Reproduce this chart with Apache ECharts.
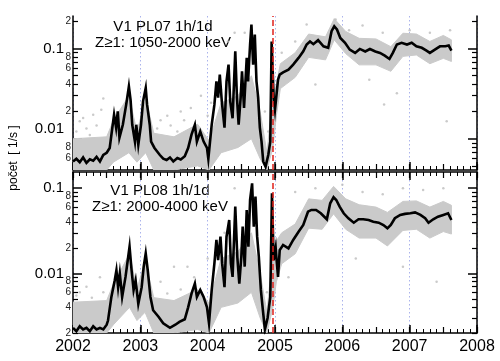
<!DOCTYPE html>
<html><head><meta charset="utf-8">
<script src="https://cdn.jsdelivr.net/npm/echarts@6/dist/echarts.min.js"></script>
<style>html,body{margin:0;padding:0;background:#fff}#c{width:500px;height:361px}</style>
</head><body><div id="c"></div>
<script>
// ---------- data ----------
const crossingT = 2004.96; // red dashed line
const yearTicks = [2002, 2003, 2004, 2005, 2006, 2007, 2008];

const topMajor = [0.01, 0.1];
const topMinor = [0.005,0.006,0.007,0.008,0.009,0.02,0.03,0.04,0.05,0.06,0.07,0.08,0.09,0.2];
const topMinorLabels = [0.006,0.008,0.02,0.04,0.06,0.08,0.2];
const botMajor = [0.01, 0.1];
const botMinor = [0.002,0.003,0.004,0.005,0.006,0.007,0.008,0.009,0.02,0.03,0.04,0.05,0.06,0.07,0.08,0.09];
const botMinorLabels = [0.002,0.004,0.006,0.008,0.02,0.04,0.06,0.08];
const topRange = [0.0045, 0.23];
const botRange = [0.002, 0.155];

// daily averages, PL07
const topDaily = [[2002.00,0.0056],[2002.05,0.0060],[2002.10,0.0055],[2002.15,0.0062],[2002.20,0.0054],[2002.25,0.0059],[2002.30,0.0057],[2002.35,0.0063],[2002.40,0.0056],[2002.45,0.0066],[2002.50,0.0070],[2002.545,0.0079],[2002.59,0.0143],[2002.61,0.0185],[2002.64,0.0133],[2002.665,0.0201],[2002.69,0.0103],[2002.74,0.0143],[2002.79,0.0239],[2002.83,0.0381],[2002.855,0.027],[2002.88,0.0143],[2002.92,0.0093],[2002.94,0.0143],[2002.97,0.0086],[2003.01,0.0143],[2003.04,0.026],[2003.08,0.0366],[2003.10,0.024],[2003.14,0.0143],[2003.16,0.0093],[2003.21,0.0079],[2003.29,0.0066],[2003.34,0.0060],[2003.39,0.0058],[2003.44,0.0062],[2003.49,0.0056],[2003.55,0.0061],[2003.60,0.0059],[2003.66,0.0064],[2003.71,0.0079],[2003.76,0.0111],[2003.81,0.0143],[2003.84,0.0093],[2003.89,0.0120],[2003.94,0.0093],[2003.99,0.0079],[2004.01,0.0060],[2004.06,0.0143],[2004.10,0.0239],[2004.13,0.0433],[2004.155,0.0286],[2004.18,0.0514],[2004.21,0.026],[2004.25,0.0133],[2004.28,0.0433],[2004.31,0.0664],[2004.335,0.026],[2004.37,0.0169],[2004.41,0.0934],[2004.435,0.0286],[2004.46,0.0143],[2004.49,0.0286],[2004.51,0.056],[2004.54,0.022],[2004.58,0.0788],[2004.60,0.0433],[2004.63,0.111],[2004.65,0.185],[2004.675,0.0664],[2004.70,0.143],[2004.725,0.0433],[2004.75,0.0286],[2004.775,0.0133],[2004.80,0.0093],[2004.825,0.0056],[2004.86,0.0049],[2004.90,0.0066],[2004.93,0.0093],[2004.95,0.12],[2004.98,0.0286],[2005.00,0.021],[2005.025,0.0322],[2005.045,0.0452],[2005.07,0.0514],[2005.12,0.0545],[2005.20,0.0584],[2005.27,0.0664],[2005.35,0.0788],[2005.42,0.0934],[2005.47,0.111],[2005.52,0.12],[2005.57,0.112],[2005.64,0.124],[2005.72,0.106],[2005.79,0.102],[2005.84,0.156],[2005.88,0.177],[2005.92,0.163],[2005.97,0.131],[2006.04,0.116],[2006.11,0.0974],[2006.19,0.0896],[2006.26,0.0992],[2006.34,0.093],[2006.41,0.099],[2006.49,0.093],[2006.56,0.0896],[2006.63,0.0836],[2006.70,0.0768],[2006.75,0.0896],[2006.81,0.111],[2006.88,0.116],[2006.96,0.111],[2007.03,0.116],[2007.10,0.106],[2007.18,0.102],[2007.25,0.095],[2007.30,0.0896],[2007.38,0.098],[2007.45,0.106],[2007.53,0.106],[2007.58,0.108],[2007.62,0.095]];

// daily averages, PL08
const botDaily = [[2002.00,0.0023],[2002.05,0.0021],[2002.10,0.0024],[2002.15,0.0022],[2002.20,0.0023],[2002.25,0.0021],[2002.30,0.0024],[2002.35,0.0022],[2002.40,0.0023],[2002.45,0.0022],[2002.50,0.0025],[2002.52,0.0028],[2002.57,0.0053],[2002.62,0.0083],[2002.645,0.0109],[2002.67,0.0069],[2002.695,0.010],[2002.73,0.0053],[2002.78,0.0091],[2002.82,0.0157],[2002.84,0.0206],[2002.87,0.0109],[2002.90,0.0064],[2002.93,0.0083],[2002.97,0.0044],[2003.02,0.0069],[2003.05,0.012],[2003.08,0.0172],[2003.11,0.0109],[2003.15,0.0053],[2003.19,0.0037],[2003.27,0.0031],[2003.34,0.0026],[2003.44,0.0023],[2003.52,0.0025],[2003.58,0.0027],[2003.66,0.0029],[2003.71,0.0040],[2003.76,0.0058],[2003.81,0.0076],[2003.84,0.0053],[2003.89,0.0064],[2003.94,0.0053],[2003.99,0.0040],[2004.02,0.0026],[2004.06,0.0064],[2004.10,0.0131],[2004.13,0.0247],[2004.155,0.0143],[2004.19,0.027],[2004.215,0.0131],[2004.25,0.0069],[2004.28,0.027],[2004.32,0.0424],[2004.345,0.0131],[2004.37,0.0091],[2004.41,0.0608],[2004.44,0.0157],[2004.47,0.0076],[2004.50,0.0157],[2004.52,0.0354],[2004.55,0.012],[2004.58,0.0556],[2004.605,0.0206],[2004.63,0.0728],[2004.66,0.114],[2004.685,0.0354],[2004.71,0.0797],[2004.735,0.027],[2004.76,0.0157],[2004.79,0.0064],[2004.82,0.0037],[2004.85,0.0022],[2004.89,0.0030],[2004.93,0.0053],[2004.955,0.087],[2004.98,0.0143],[2005.01,0.020],[2005.02,0.0157],[2005.045,0.0091],[2005.07,0.0188],[2005.12,0.0216],[2005.20,0.0197],[2005.27,0.0247],[2005.35,0.0309],[2005.42,0.037],[2005.49,0.053],[2005.54,0.0556],[2005.61,0.0556],[2005.68,0.0508],[2005.77,0.0432],[2005.82,0.0666],[2005.87,0.0784],[2005.91,0.0728],[2005.96,0.0608],[2006.02,0.0508],[2006.09,0.0444],[2006.17,0.0394],[2006.24,0.0432],[2006.31,0.0432],[2006.39,0.0424],[2006.46,0.0405],[2006.54,0.0394],[2006.61,0.037],[2006.67,0.0338],[2006.72,0.037],[2006.78,0.0444],[2006.86,0.0486],[2006.93,0.050],[2007.01,0.0508],[2007.08,0.052],[2007.16,0.0486],[2007.23,0.0444],[2007.28,0.0394],[2007.35,0.0432],[2007.42,0.0463],[2007.50,0.0486],[2007.57,0.0508],[2007.62,0.0424]];

// hourly spread (grey cloud): [t, low, high]
const topBand = [[2002.00,0.0045,0.0100],[2002.50,0.0045,0.0105],[2002.60,0.0055,0.0160],[2002.83,0.0070,0.0300],[2002.95,0.0055,0.0120],[2003.08,0.0070,0.0280],[2003.20,0.0045,0.0115],[2003.50,0.0045,0.0105],[2003.85,0.0050,0.0145],[2004.02,0.0045,0.0095],[2004.20,0.0070,0.0250],[2004.45,0.0080,0.0300],[2004.65,0.0100,0.0500],[2004.78,0.0060,0.0200],[2004.88,0.0045,0.0070],[2004.97,0.0080,0.0300],[2005.02,0.0180,0.0400],[2005.08,0.0360,0.0680],[2005.30,0.0480,0.0900],[2005.50,0.0800,0.1450],[2005.75,0.0750,0.1350],[2005.88,0.1250,0.2150],[2006.05,0.0880,0.1550],[2006.25,0.0660,0.1300],[2006.50,0.0660,0.1280],[2006.72,0.0560,0.1050],[2006.90,0.0820,0.1480],[2007.10,0.0850,0.1450],[2007.30,0.0680,0.1200],[2007.50,0.0780,0.1400],[2007.62,0.0720,0.1250]];
const botBand = [[2002.00,0.0020,0.0046],[2002.50,0.0020,0.0048],[2002.60,0.0025,0.0075],[2002.84,0.0040,0.0170],[2002.95,0.0028,0.0065],[2003.07,0.0035,0.0140],[2003.20,0.0020,0.0052],[2003.50,0.0020,0.0048],[2003.85,0.0022,0.0065],[2004.02,0.0020,0.0045],[2004.20,0.0040,0.0150],[2004.45,0.0045,0.0180],[2004.65,0.0060,0.0300],[2004.78,0.0030,0.0100],[2004.88,0.0020,0.0035],[2004.97,0.0040,0.0180],[2005.02,0.0080,0.0240],[2005.10,0.0130,0.0300],[2005.30,0.0170,0.0380],[2005.50,0.0340,0.0750],[2005.70,0.0330,0.0720],[2005.87,0.0500,0.1050],[2006.05,0.0330,0.0750],[2006.25,0.0260,0.0640],[2006.50,0.0260,0.0600],[2006.67,0.0210,0.0520],[2006.90,0.0320,0.0700],[2007.10,0.0330,0.0710],[2007.30,0.0260,0.0600],[2007.50,0.0310,0.0700],[2007.62,0.0290,0.0630]];

// sparse hourly outliers
const topDots = [[2002.05,0.012],[2002.10,0.0156],[2002.15,0.017],[2002.20,0.013],[2002.25,0.011],[2002.30,0.0185],[2002.35,0.014],[2002.42,0.021],[2002.45,0.028],[2003.25,0.013],[2003.30,0.016],[2003.40,0.018],[2003.45,0.014],[2003.55,0.012],[2003.60,0.020],[2003.65,0.016],[2003.75,0.022],[2003.90,0.030],[2004.00,0.018],[2004.05,0.025],[2004.20,0.035],[2004.30,0.12],[2004.40,0.15],[2004.55,0.15],[2004.85,0.020],[2004.90,0.012],[2005.10,0.09],[2005.30,0.12],[2005.47,0.185],[2005.90,0.21],[2006.10,0.16],[2006.30,0.18],[2006.60,0.15],[2006.62,0.024],[2006.81,0.032],[2007.00,0.16],[2007.30,0.15],[2007.55,0.0156],[2007.60,0.16],[2005.60,0.040],[2006.40,0.045]];
const botDots = [[2002.05,0.0055],[2002.10,0.006],[2002.20,0.007],[2002.28,0.0052],[2002.40,0.009],[2002.45,0.006],[2003.30,0.008],[2003.40,0.0058],[2003.50,0.012],[2003.60,0.0065],[2003.70,0.012],[2003.80,0.009],[2004.00,0.015],[2004.25,0.03],[2004.40,0.10],[2004.88,0.006],[2005.30,0.09],[2005.60,0.10],[2006.00,0.11],[2006.30,0.09],[2006.60,0.085],[2006.90,0.10],[2007.20,0.095],[2007.50,0.10],[2006.20,0.015],[2005.20,0.009],[2006.90,0.012],[2007.40,0.008]];

const titleTop = ['V1 PL07 1h/1d', 'Z\u22651: 1050-2000 keV'];
const titleBot = ['V1 PL08 1h/1d', 'Z\u22651: 2000-4000 keV'];
const yName = 'po\u010det  [ 1/s ]';

// ---------- chart ----------
const L = Math.log10;
const FONT = '"Liberation Sans", Arial, Helvetica, sans-serif';
const GREY = '#cacaca';
const BLK = '#000';

function majorFmtFactory(raiseLow) {
  return function(v){
    const s = String(Number(Math.pow(10, v).toPrecision(1)));
    return (raiseLow && Math.abs(v + 2) < 1e-6) ? '{up|' + s + '}' : '{n|' + s + '}';
  };
}
function minorFmt(v){ const e = Math.floor(v + 1e-9); return String(Math.round(Math.pow(10, v - e))); }

function xAxes(grid, withLabels, top) {
  const base = {
    type:'value', gridIndex:grid, min:yearTicks[0], max:yearTicks[yearTicks.length-1], interval:1,
    position: top ? 'top' : 'bottom'
  };
  return [
    Object.assign({}, base, {
      axisLine:{show:true, onZero:false, lineStyle:{color:BLK, width:1.5}},
      axisTick:{show:true, inside:true, length:8, lineStyle:{color:BLK, width:1.5}},
      minorTick:{show:true, splitNumber:10, length:4, lineStyle:{color:BLK, width:1}},
      axisLabel:{show:withLabels, fontSize:16, fontFamily:FONT, color:BLK, margin:6, formatter:v=>String(Math.round(v))},
      splitLine:{show:!top, lineStyle:{color:'#aab3ec', type:[1.5,2.5], width:1}}
    }),
    Object.assign({}, base, {
      interval:0.5,
      axisLine:{show:false, onZero:false},
      axisTick:{show:true, inside:true, length:6, lineStyle:{color:BLK, width:1.2}},
      axisLabel:{show:false}, splitLine:{show:false}
    })
  ];
}

function yAxes(grid, range, major, minor, minorLab, raiseLow) {
  const base = {type:'value', gridIndex:grid, min:L(range[0]), max:L(range[1]), splitLine:{show:false}};
  const line = {show:true, onZero:false, lineStyle:{color:BLK, width:1.5}};
  const axes = [];
  ['left','right'].forEach(pos => {
    axes.push(Object.assign({}, base, {
      position:pos, axisLine:line,
      axisTick:{show:true, inside:true, length:9, customValues:major.map(L), lineStyle:{color:BLK, width:1.5}},
      axisLabel: pos==='left' ? {show:true, customValues:major.map(L), formatter:majorFmtFactory(raiseLow),
        fontSize:15, fontFamily:FONT, color:BLK, margin:9,
        rich:{n:{fontSize:15, fontFamily:FONT, color:BLK}, up:{fontSize:15, fontFamily:FONT, color:BLK, padding:[0,0,20,0]}}} : {show:false}
    }));
    axes.push(Object.assign({}, base, {
      position:pos, axisLine:{show:false, onZero:false},
      axisTick:{show:true, inside:true, length:5, customValues:minor.map(L), lineStyle:{color:BLK, width:1.2}},
      axisLabel: pos==='left' ? {show:true, customValues:minorLab.map(L), formatter:minorFmt, fontSize:10, fontFamily:FONT, color:'#222', margin:2} : {show:false}
    }));
  });
  return axes;
}

function bandSeries(xi, yi, band) {
  return {
    type:'custom', xAxisIndex:xi, yAxisIndex:yi, silent:true, clip:true, z:1,
    data: band.map(d=>[d[0], L(d[1]), L(d[2])]),
    encode:{x:0, y:[1,2]},
    renderItem: function(params, api) {
      if (params.dataIndex !== 0) return null;
      const pts = [];
      for (let i = 0; i < band.length; i++) pts.push(api.coord([band[i][0], L(band[i][2])]));
      for (let i = band.length - 1; i >= 0; i--) pts.push(api.coord([band[i][0], L(band[i][1])]));
      return {type:'polygon', shape:{points:pts}, style:{fill:GREY, stroke:GREY, lineWidth:1}};
    }
  };
}

function panelSeries(xi, yi, band, dots, daily) {
  return [
    bandSeries(xi, yi, band),
    {type:'scatter', xAxisIndex:xi, yAxisIndex:yi, symbolSize:2.5, itemStyle:{color:'#bdbdbd'}, silent:true,
     data: dots.map(d=>[d[0], L(d[1])]), z:2},
    {type:'line', xAxisIndex:xi, yAxisIndex:yi, symbol:'none', silent:true,
     lineStyle:{color:BLK, width:2.6, join:'miter'}, data: daily.map(d=>[d[0], L(d[1])]), z:3,
     markLine:{symbol:['none','none'], silent:true, label:{show:false}, animation:false,
       lineStyle:{color:'#e0201b', type:[6,3], width:1.5}, data:[{xAxis:crossingT}]}}
  ];
}

function txt(x, y, s, size, rot) {
  return {type:'text', x:x, y:y, rotation:rot||0, silent:true,
    style:{text:s, fill:BLK, font:size+'px '+FONT, align:'center', verticalAlign:'middle', textAlign:'center', textVerticalAlign:'middle'}};
}

const chart = echarts.init(document.getElementById('c'), null, {renderer:'canvas'});
chart.setOption({
  animation:false,
  backgroundColor:'#fff',
  grid:[
    {left:73, right:23, top:16, height:154},
    {left:73, right:23, top:172, height:161}
  ],
  xAxis: [].concat(xAxes(0,false,false), xAxes(1,true,false), xAxes(1,false,true)),
  yAxis: [].concat(yAxes(0, topRange, topMajor, topMinor, topMinorLabels, true), yAxes(1, botRange, botMajor, botMinor, botMinorLabels, false)),
  series: [].concat(panelSeries(0, 0, topBand, topDots, topDaily), panelSeries(2, 4, botBand, botDots, botDaily)),
  graphic: [
    txt(163, 27, titleTop[0], 15), txt(163, 43, titleTop[1], 15),
    txt(160, 191, titleBot[0], 15), txt(160, 207, titleBot[1], 15),
    txt(14, 158, yName, 12, Math.PI/2)
  ]
});
</script></body></html>
